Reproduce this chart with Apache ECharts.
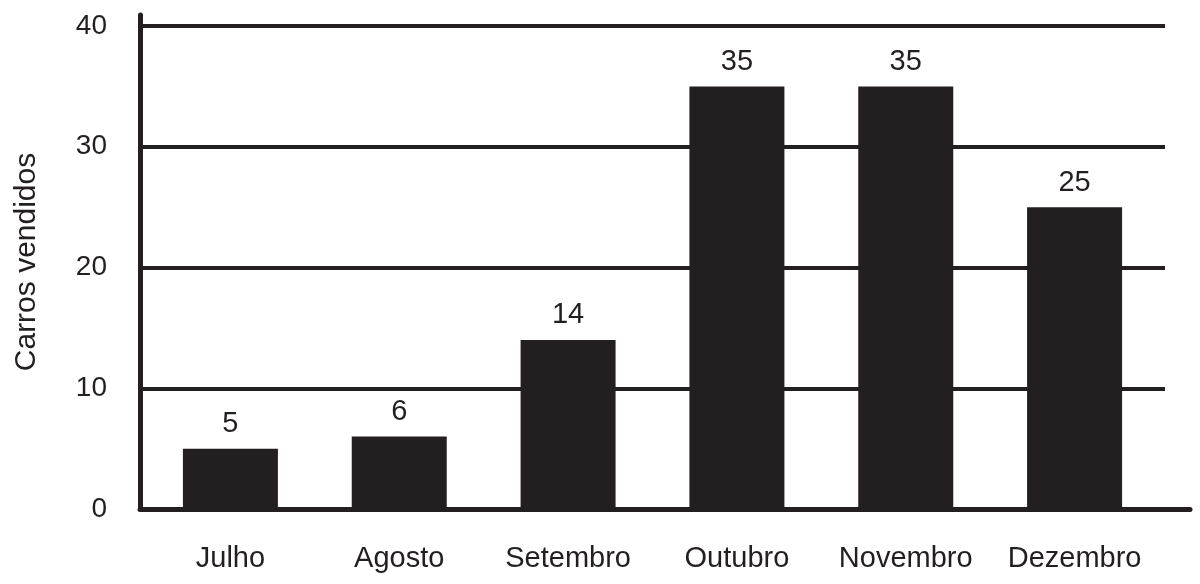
<!DOCTYPE html>
<html>
<head>
<meta charset="utf-8">
<script src="https://cdn.jsdelivr.net/npm/echarts@6/dist/echarts.min.js"></script>
<style>
  html, body { margin: 0; padding: 0; background: #fff; }
  #main { width: 1200px; height: 584px; }
</style>
</head>
<body>
<div id="main"></div>
<script>
var meses = ["Julho", "Agosto", "Setembro", "Outubro", "Novembro", "Dezembro"];
var carros = [5, 6, 14, 35, 35, 25];
var yTicks = [0, 10, 20, 30, 40];

var cor = "#231f20";
var fonte = "'Liberation Sans', Arial, sans-serif";

var chart = echarts.init(document.getElementById("main"));
var option = {
  backgroundColor: "#fff",
  animation: false,
  textStyle: { fontFamily: fonte, color: cor },
  grid: [
    // y labels + horizontal lines
    { left: 140, right: 35, top: 26, bottom: 75 },
    // bars
    { left: 146, right: 41, top: 26, bottom: 75 },
    // axis lines (longer than the gridlines)
    { left: 140, right: 10, top: 15, bottom: 75 }
  ],
  xAxis: [
    { gridIndex: 0, type: "category", data: meses, show: false },
    {
      gridIndex: 1, type: "category", data: meses,
      axisLine: { show: false },
      axisTick: { show: false },
      axisLabel: { color: cor, fontSize: 29, fontFamily: fonte, margin: 35, interval: 0 }
    },
    {
      gridIndex: 2, type: "value", min: 0, max: 1,
      axisLine: { show: true, lineStyle: { color: cor, width: 5 } },
      axisTick: { show: false }, axisLabel: { show: false }, splitLine: { show: false }
    }
  ],
  yAxis: [
    {
      gridIndex: 0, type: "value", min: yTicks[0], max: yTicks[yTicks.length - 1], interval: 10,
      axisLine: { show: false },
      axisTick: { show: false },
      axisLabel: { color: cor, fontSize: 28, fontFamily: fonte, margin: 33 },
      splitLine: { show: true, lineStyle: { color: cor, width: 4 } }
    },
    {
      gridIndex: 1, type: "value", min: yTicks[0], max: yTicks[yTicks.length - 1], show: false
    },
    {
      gridIndex: 2, type: "value", min: 0, max: 1,
      name: "Carros vendidos", nameLocation: "middle", nameGap: 98,
      nameTextStyle: { color: cor, fontSize: 30, fontFamily: fonte },
      axisLine: { show: true, lineStyle: { color: cor, width: 5 } },
      axisTick: { show: false }, axisLabel: { show: false }, splitLine: { show: false }
    }
  ],
  series: [{
    type: "bar",
    xAxisIndex: 1,
    yAxisIndex: 1,
    data: carros,
    barWidth: 95,
    itemStyle: { color: cor },
    label: {
      show: true, position: "top", distance: 10,
      color: cor, fontSize: 29, fontFamily: fonte
    },
    z: 3
  }]
};
chart.setOption(option);
</script>
</body>
</html>
